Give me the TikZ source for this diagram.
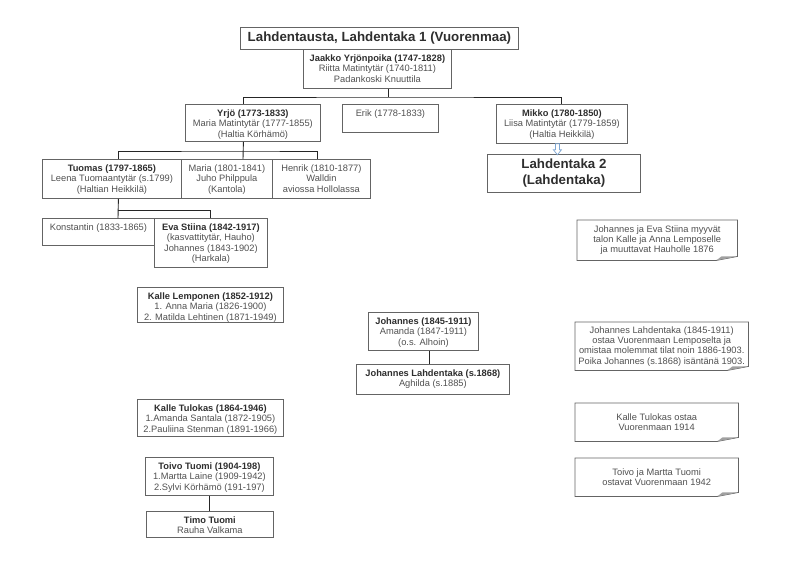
\documentclass[tikz,border=0pt]{standalone}
\usepackage{fontspec}
\setmainfont{Liberation Sans}

\definecolor{boxline}{HTML}{646464}
\definecolor{namecol}{HTML}{2E2E2E}
\definecolor{textcol}{HTML}{505050}
\definecolor{notefold}{HTML}{A0A0A0}
\definecolor{arrowblue}{HTML}{7FA7D3}

\tikzset{
  famb/.style={draw=boxline, line width=0.8pt, anchor=north west, inner sep=0pt},
  famt/.style={anchor=north, align=center, inner sep=0pt, text=textcol,
    font=\fontsize{9.3}{10.3}\selectfont},
  big/.style={font=\fontsize{13.3}{16}\selectfont\bfseries, text=namecol, align=center},
  notet/.style={anchor=north west, align=center, inner sep=0pt, text=textcol,
    font=\fontsize{9.3}{10.3}\selectfont},
  noteb/.style={draw=boxline, line width=0.8pt},
  link/.style={draw=black!85, line width=0.9pt}
}
\newcommand{\bname}[1]{{\bfseries\color{namecol}#1}}
% laatikko: nimi, x, y, leveys, korkeus, teksti
\newcommand{\famnode}[6]{%
  \node[famb, minimum width=#4pt, minimum height=#5pt] (#1) at (#2,#3) {};
  \node[famt] (#1-t) at ([yshift=-5.5pt]#1.north) {#6};}

\begin{document}
\begin{tikzpicture}[x=1pt, y=-1pt]
  \useasboundingbox (0,0) rectangle (799,571);

  % otsikko ja jalkimmainen talo
  \node[famb, big, minimum width=278pt, minimum height=22pt] (title) at (240,27)
    {Lahdentausta, Lahdentaka 1 (Vuorenmaa)};
  \node[famb, big, minimum width=153pt, minimum height=38pt] (lahd2) at (487,154)
    {Lahdentaka 2\\(Lahdentaka)};

  % sukulaatikot
  \famnode{jaakko}{303}{49}{148}{39}{\bname{Jaakko Yrjönpoika (1747-1828)}\\Riitta Matintytär (1740-1811)\\Padankoski Knuuttila}
  \famnode{yrjo}{185}{104}{135}{37}{\bname{Yrjö (1773-1833)}\\Maria Matintytär (1777-1855)\\(Haltia Körhämö)}
  \famnode{erik}{342}{104}{96}{28}{Erik (1778-1833)}
  \famnode{mikko}{496}{104}{131}{39}{\bname{Mikko (1780-1850)}\\Liisa Matintytär (1779-1859)\\(Haltia Heikkilä)}
  \famnode{tuomas}{42}{159}{139}{39}{\bname{Tuomas (1797-1865)}\\Leena Tuomaantytär (s.1799)\\(Haltian Heikkilä)}
  \famnode{maria}{181}{159}{91}{39}{Maria (1801-1841)\\Juho Philppula\\(Kantola)}
  \famnode{henrik}{272}{159}{98}{39}{Henrik (1810-1877)\\Walldin\\aviossa Hollolassa}
  \famnode{konst}{42}{218}{112}{27}{Konstantin (1833-1865)}
  \famnode{eva}{154}{218}{113}{49}{\bname{Eva Stiina (1842-1917)}\\(kasvattitytär, Hauho)\\Johannes (1843-1902)\\(Harkala)}
  \famnode{lemponen}{137}{287}{146}{35}{\bname{Kalle Lemponen (1852-1912)}\\1. Anna Maria (1826-1900)\\2. Matilda Lehtinen (1871-1949)}
  \famnode{johannes}{368}{312}{110}{38}{\bname{Johannes (1845-1911)}\\Amanda (1847-1911)\\(o.s. Alhoin)}
  \famnode{jlahd}{356}{364}{153}{30}{\bname{Johannes Lahdentaka (s.1868)}\\Aghilda (s.1885)}
  \famnode{tulokas}{137}{399}{146}{37}{\bname{Kalle Tulokas (1864-1946)}\\1.Amanda Santala (1872-1905)\\2.Pauliina Stenman (1891-1966)}
  \famnode{toivo}{145}{457}{128}{38}{\bname{Toivo Tuomi (1904-198)}\\1.Martta Laine (1909-1942)\\2.Sylvi Körhämö (191-197)}
  \famnode{timo}{146}{511}{127}{26}{\bname{Timo Tuomi}\\Rauha Valkama}

  % muistilaput
  \node[notet, minimum width=160pt, minimum height=40pt] (note1) at (577,220)
    {Johannes ja Eva Stiina myyvät\\talon Kalle ja Anna Lemposelle\\ja muuttavat Hauholle 1876};
  \node[notet, minimum width=173pt, minimum height=48pt] (note2) at (575,322)
    {Johannes Lahdentaka (1845-1911)\\ostaa Vuorenmaan Lemposelta ja\\omistaa molemmat tilat noin 1886-1903.\\Poika Johannes (s.1868) isäntänä 1903.};
  \node[notet, minimum width=163pt, minimum height=38pt] (note3) at (575,403)
    {Kalle Tulokas ostaa\\Vuorenmaan 1914};
  \node[notet, minimum width=163pt, minimum height=38pt] (note4) at (575,458)
    {Toivo ja Martta Tuomi\\ostavat Vuorenmaan 1942};
  \foreach \nid in {note1, note2, note3, note4} {
    \draw[noteb] (\nid.north west) -- (\nid.north east) -- ([yshift=4pt]\nid.south east)
      -- ([xshift=-21pt]\nid.south east) -- (\nid.south west) -- cycle;
    \fill[notefold] ([xshift=-21pt]\nid.south east) -- ([yshift=4pt]\nid.south east)
      -- ([xshift=-16pt,yshift=4pt]\nid.south east) -- cycle;
  }

  % yhdysviivat
  \coordinate (bar1) at (388,97);
  \draw[link] (bar1 |- jaakko.south) -- (bar1);
  \draw[link] ([xshift=-9.5pt]yrjo.north) |- (bar1) -| (mikko.north);
  \coordinate (bar2) at (243,151);
  \draw[link] ([xshift=-9.5pt]yrjo.south) -- (bar2 |- maria.north);
  \draw[link] ([xshift=6.5pt]tuomas.north) |- (bar2) -| ([xshift=-4pt]henrik.north);
  \coordinate (bar3) at (118,210);
  \draw[link] ([xshift=6.5pt]tuomas.south) -- (bar3 |- konst.north);
  \draw[link] (bar3) -| (eva.north);
  \draw[link] ([xshift=6pt]johannes.south) -- ([xshift=-3.5pt]jlahd.north);
  \draw[link] (toivo.south) -- (toivo.south |- timo.north);

  % ontto nuoli Mikosta Lahdentaka 2:een
  \draw[draw=arrowblue, line width=0.7pt, fill=white] ([xshift=-6.5pt]mikko.south)
    -- ++(4,0) -- ++(0,6) -- ++(2,0) -- ++(-4,5) -- ++(-4,-5) -- ++(2,0) -- cycle;
\end{tikzpicture}
\end{document}
